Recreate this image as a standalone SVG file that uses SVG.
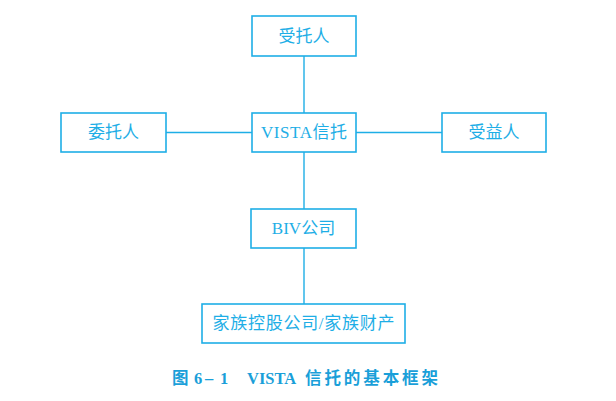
<svg xmlns="http://www.w3.org/2000/svg" width="616" height="401" viewBox="0 0 616 401">
<style>
.box{fill:#fff;stroke:#1eaee6;stroke-width:1.6}
.lbl{font-family:"Liberation Serif","Noto Sans CJK SC",serif;font-size:17px;fill:#1eaee6;text-anchor:middle;dominant-baseline:central}
.cn{stroke:#1eaee6;stroke-width:1.4;fill:none}
.cap{font-family:"Liberation Serif","Noto Sans CJK SC",serif;font-size:16.5px;font-weight:bold;fill:#1a9fd9}
</style>
<rect width="616" height="401" fill="#fff"/>
<g id="connectors">
<line class="cn" x1="304" y1="56" x2="304" y2="113"/>
<line class="cn" x1="166" y1="132.5" x2="252" y2="132.5"/>
<line class="cn" x1="356" y1="132.5" x2="442" y2="132.5"/>
<line class="cn" x1="304" y1="152" x2="304" y2="209"/>
<line class="cn" x1="304" y1="248" x2="304" y2="304"/>
</g>
<g id="trustee"><rect class="box" x="252" y="16" width="104" height="40"/><text class="lbl" x="304" y="36">受托人</text></g>
<g id="vista"><rect class="box" x="252" y="113" width="104" height="39"/><text class="lbl" x="304" y="132.5" textLength="86" lengthAdjust="spacing">VISTA信托</text></g>
<g id="settlor"><rect class="box" x="61" y="113" width="105" height="39"/><text class="lbl" x="113.5" y="132.5">委托人</text></g>
<g id="beneficiary"><rect class="box" x="442" y="113" width="104" height="39"/><text class="lbl" x="494" y="132.5">受益人</text></g>
<g id="biv"><rect class="box" x="251" y="209" width="105" height="39"/><text class="lbl" x="303.5" y="228.5">BIV公司</text></g>
<g id="family"><rect class="box" x="202" y="304" width="203" height="39"/><text class="lbl" x="303.5" y="323.5" textLength="182" lengthAdjust="spacing">家族控股公司/家族财产</text></g>
<g id="caption">
<text class="cap" x="172" y="384">图</text>
<text class="cap" x="194" y="384">6</text>
<text class="cap" x="205" y="384">–</text>
<text class="cap" x="220" y="384">1</text>
<text class="cap" x="247" y="384">VISTA</text>
<text class="cap" x="305" y="384" textLength="133" lengthAdjust="spacing">信托的基本框架</text>
</g>
</svg>
